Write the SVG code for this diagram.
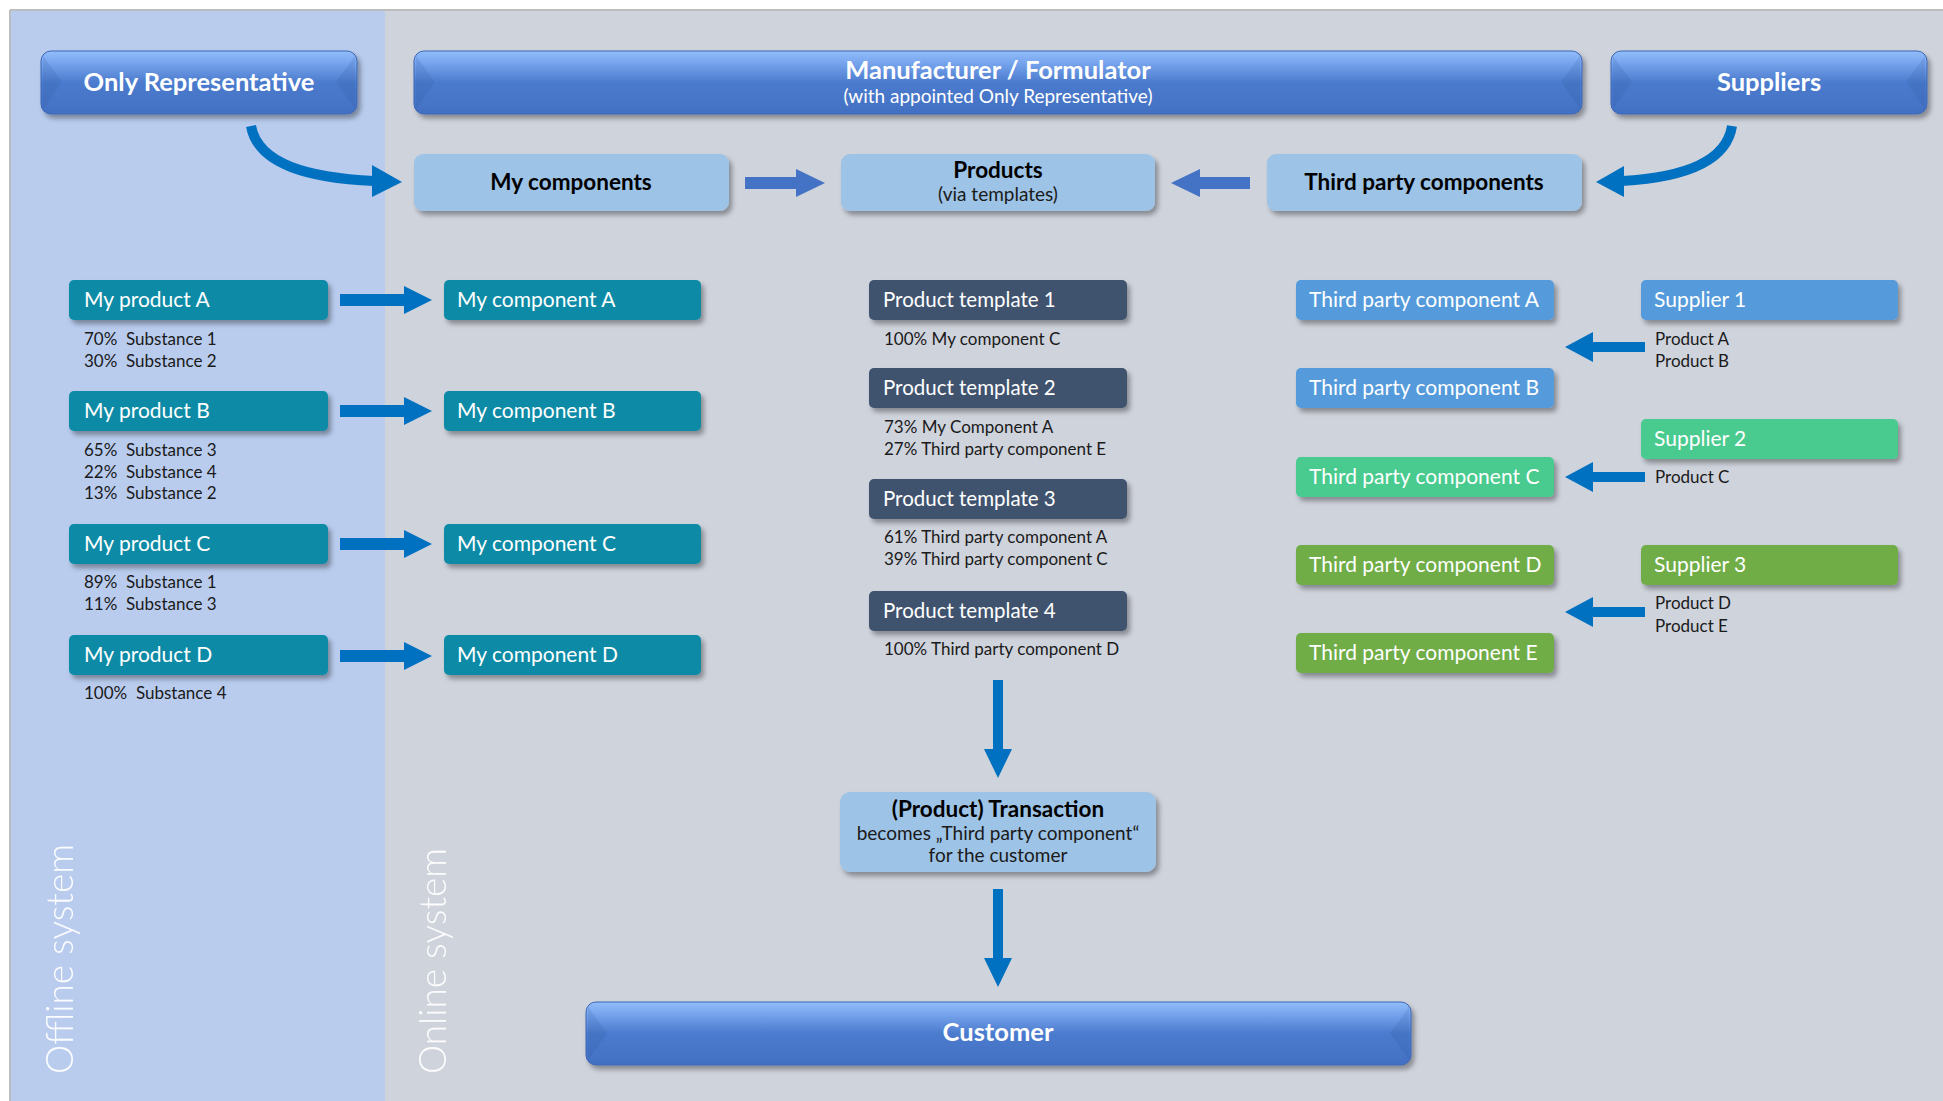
<svg xmlns="http://www.w3.org/2000/svg" width="1943" height="1101" viewBox="0 0 1943 1101">
<defs>
<linearGradient id="gloss" x1="0" y1="0" x2="0" y2="1">
<stop offset="0" stop-color="#92BEFB"/>
<stop offset="0.15" stop-color="#7CA9F0"/>
<stop offset="0.5" stop-color="#4B7BCE"/>
<stop offset="1" stop-color="#4270C2"/>
</linearGradient>
<filter id="sh" x="-10%" y="-20%" width="125%" height="160%">
<feDropShadow dx="3" dy="4" stdDeviation="2.5" flood-color="#000" flood-opacity="0.35"/>
</filter>
<path id="arR" d="M0,-6 H64 V-14 L92,0 L64,14 V6 H0 Z"/>
<path id="arL" d="M0,0 L28,-15 V-5 H80 V5 H28 V15 Z"/>
<path id="arTR" d="M0,-6 H51 V-14 L80,0 L51,14 V6 H0 Z"/>
<path id="arTL" d="M0,0 L29,-14 V-6 H79 V6 H29 V14 Z"/>
<path id="arD" d="M-5,0 V69 H-14 L0,98 L14,69 H5 V0 Z"/>
</defs>
<style>
text{font-family:Lato,"Liberation Sans",sans-serif}
.btn{fill:url(#gloss);stroke:#3C66B4;stroke-width:1;filter:url(#sh)}
.bev{fill:#2A4E94;opacity:0.15}
.btxt{fill:#fff;font-weight:700;font-size:25.5px;text-anchor:middle}
.lb{fill:#9DC3E6;filter:url(#sh)}
.lbt{fill:#000;font-weight:700;font-size:22.5px;text-anchor:middle}
.sub{fill:#1a1a1a;font-size:19px;text-anchor:middle}
.box{filter:url(#sh)}
.teal{fill:#0B8BA6}
.tmpl{fill:#3F526E}
.blue{fill:#559BDB}
.mint{fill:#48CA8E}
.grn{fill:#70AD47}
.nt{fill:#fff;font-size:21px;font-weight:400}
.tt{fill:#fff;font-size:20.5px;font-weight:400}
.sm{fill:#1a1a1a;font-size:17px}
.ar{fill:#0070C0}
.ar2{fill:#4472C4}
.vt{fill:#fff;font-size:37px;font-weight:300;opacity:0.95}
</style>
<rect x="0" y="0" width="1943" height="1101" fill="#fff"/>
<rect x="10" y="10" width="375" height="1091" fill="#B9CCEE"/>
<rect x="385" y="10" width="1558" height="1091" fill="#CFD3DC"/>
<line x1="10" y1="10" x2="1943" y2="10" stroke="#BDBDBD" stroke-width="2"/>
<line x1="10" y1="10" x2="10" y2="1101" stroke="#BDBDBD" stroke-width="2"/>
<text class="vt" transform="translate(73,1074) rotate(-90)" textLength="230" lengthAdjust="spacingAndGlyphs">Offline system</text>
<text class="vt" transform="translate(446,1074) rotate(-90)" textLength="226" lengthAdjust="spacingAndGlyphs">Online system</text>

<g id="only-representative">
<rect class="btn" x="41" y="51" width="316" height="63" rx="10"/>
<polygon class="bev" points="43,56 62,82 43,109"/>
<polygon class="bev" points="355,56 336,82 355,109"/>
<text class="btxt" x="199" y="91">Only Representative</text>
</g>
<g id="manufacturer">
<rect class="btn" x="414" y="51" width="1168" height="63" rx="10"/>
<polygon class="bev" points="416,56 435,82 416,109"/>
<polygon class="bev" points="1580,56 1561,82 1580,109"/>
<text class="btxt" x="998" y="79" font-size="26.5">Manufacturer / Formulator</text>
<text x="998" y="103" fill="#fff" font-size="19" text-anchor="middle">(with appointed Only Representative)</text>
</g>
<g id="suppliers">
<rect class="btn" x="1611" y="51" width="316" height="63" rx="10"/>
<polygon class="bev" points="1613,56 1632,82 1613,109"/>
<polygon class="bev" points="1925,56 1906,82 1925,109"/>
<text class="btxt" x="1769" y="91">Suppliers</text>
</g>

<g id="my-components">
<rect class="lb" x="414" y="154" width="315" height="57" rx="9"/>
<text class="lbt" x="571" y="190">My components</text>
</g>
<g id="products">
<rect class="lb" x="841" y="154" width="314" height="57" rx="9"/>
<text class="lbt" x="998" y="178">Products</text>
<text class="sub" x="998" y="201">(via templates)</text>
</g>
<g id="third-party-components">
<rect class="lb" x="1267" y="154" width="315" height="57" rx="9"/>
<text class="lbt" x="1424" y="190">Third party components</text>
</g>

<g id="my-product-a"><rect class="box teal" x="69" y="280" width="259" height="40" rx="5"/><text class="nt" x="84" y="307">My product A</text></g>
<g id="my-product-b"><rect class="box teal" x="69" y="391" width="259" height="40" rx="5"/><text class="nt" x="84" y="418">My product B</text></g>
<g id="my-product-c"><rect class="box teal" x="69" y="524" width="259" height="40" rx="5"/><text class="nt" x="84" y="551">My product C</text></g>
<g id="my-product-d"><rect class="box teal" x="69" y="635" width="259" height="40" rx="5"/><text class="nt" x="84" y="662">My product D</text></g>
<g id="substances">
<text class="sm" x="84" y="345">70%&#160; Substance 1</text>
<text class="sm" x="84" y="367">30%&#160; Substance 2</text>
<text class="sm" x="84" y="456">65%&#160; Substance 3</text>
<text class="sm" x="84" y="478">22%&#160; Substance 4</text>
<text class="sm" x="84" y="499">13%&#160; Substance 2</text>
<text class="sm" x="84" y="588">89%&#160; Substance 1</text>
<text class="sm" x="84" y="610">11%&#160; Substance 3</text>
<text class="sm" x="84" y="699">100%&#160; Substance 4</text>
</g>

<g id="my-component-a"><rect class="box teal" x="444" y="280" width="257" height="40" rx="5"/><text class="nt" x="457" y="307">My component A</text></g>
<g id="my-component-b"><rect class="box teal" x="444" y="391" width="257" height="40" rx="5"/><text class="nt" x="457" y="418">My component B</text></g>
<g id="my-component-c"><rect class="box teal" x="444" y="524" width="257" height="40" rx="5"/><text class="nt" x="457" y="551">My component C</text></g>
<g id="my-component-d"><rect class="box teal" x="444" y="635" width="257" height="40" rx="5"/><text class="nt" x="457" y="662">My component D</text></g>

<g id="product-template-1"><rect class="box tmpl" x="869" y="280" width="258" height="40" rx="5"/><text class="tt" x="883" y="307">Product template 1</text></g>
<g id="product-template-2"><rect class="box tmpl" x="869" y="368" width="258" height="40" rx="5"/><text class="tt" x="883" y="395">Product template 2</text></g>
<g id="product-template-3"><rect class="box tmpl" x="869" y="479" width="258" height="40" rx="5"/><text class="tt" x="883" y="506">Product template 3</text></g>
<g id="product-template-4"><rect class="box tmpl" x="869" y="591" width="258" height="40" rx="5"/><text class="tt" x="883" y="618">Product template 4</text></g>
<g id="template-contents">
<text class="sm" x="884" y="345">100% My component C</text>
<text class="sm" x="884" y="433">73% My Component A</text>
<text class="sm" x="884" y="455">27% Third party component E</text>
<text class="sm" x="884" y="543">61% Third party component A</text>
<text class="sm" x="884" y="565">39% Third party component C</text>
<text class="sm" x="884" y="655">100% Third party component D</text>
</g>

<g id="third-party-component-a"><rect class="box blue" x="1296" y="280" width="258" height="40" rx="5"/><text class="nt" x="1309" y="307">Third party component A</text></g>
<g id="third-party-component-b"><rect class="box blue" x="1296" y="368" width="258" height="40" rx="5"/><text class="nt" x="1309" y="395">Third party component B</text></g>
<g id="third-party-component-c"><rect class="box mint" x="1296" y="457" width="258" height="40" rx="5"/><text class="nt" x="1309" y="484">Third party component C</text></g>
<g id="third-party-component-d"><rect class="box grn" x="1296" y="545" width="258" height="40" rx="5"/><text class="nt" x="1309" y="572">Third party component D</text></g>
<g id="third-party-component-e"><rect class="box grn" x="1296" y="633" width="258" height="40" rx="5"/><text class="nt" x="1309" y="660">Third party component E</text></g>

<g id="supplier-1"><rect class="box blue" x="1641" y="280" width="257" height="40" rx="5"/><text class="nt" x="1654" y="307">Supplier 1</text></g>
<g id="supplier-2"><rect class="box mint" x="1641" y="419" width="257" height="40" rx="5"/><text class="nt" x="1654" y="446">Supplier 2</text></g>
<g id="supplier-3"><rect class="box grn" x="1641" y="545" width="257" height="40" rx="5"/><text class="nt" x="1654" y="572">Supplier 3</text></g>
<g id="supplier-products">
<text class="sm" x="1655" y="345">Product A</text>
<text class="sm" x="1655" y="367">Product B</text>
<text class="sm" x="1655" y="483">Product C</text>
<text class="sm" x="1655" y="609">Product D</text>
<text class="sm" x="1655" y="632">Product E</text>
</g>

<g id="transaction">
<rect class="lb" x="840" y="792" width="316" height="80" rx="10"/>
<text x="998" y="817" fill="#000" font-size="22.5" font-weight="700" text-anchor="middle">(Product) Transaction</text>
<text x="998" y="840" fill="#1a1a1a" font-size="19" text-anchor="middle">becomes „Third party component“</text>
<text x="998" y="862" fill="#1a1a1a" font-size="19" text-anchor="middle">for the customer</text>
</g>
<g id="customer">
<rect class="btn" x="586" y="1002" width="825" height="63" rx="10"/>
<polygon class="bev" points="588,1007 607,1033 588,1060"/>
<polygon class="bev" points="1409,1007 1390,1033 1409,1060"/>
<text class="btxt" x="998" y="1041">Customer</text>
</g>

<g id="connectors">
<path d="M251,126 C258,165 310,178 374,181" fill="none" stroke="#0070C0" stroke-width="10"/>
<polygon class="ar" points="372,165 402,182 372,197"/>
<path d="M1732,126 C1726,165 1675,178 1622,181" fill="none" stroke="#0070C0" stroke-width="10"/>
<polygon class="ar" points="1624,166 1596,182 1624,197"/>
<use href="#arTR" class="ar2" transform="translate(745,183)"/>
<use href="#arTL" class="ar2" transform="translate(1171,183)"/>
<use href="#arR" class="ar" transform="translate(340,300)"/>
<use href="#arR" class="ar" transform="translate(340,411)"/>
<use href="#arR" class="ar" transform="translate(340,544)"/>
<use href="#arR" class="ar" transform="translate(340,656)"/>
<use href="#arL" class="ar" transform="translate(1565,347)"/>
<use href="#arL" class="ar" transform="translate(1565,477)"/>
<use href="#arL" class="ar" transform="translate(1565,612)"/>
<use href="#arD" class="ar" transform="translate(998,680)"/>
<use href="#arD" class="ar" transform="translate(998,889)"/>
</g>
</svg>
